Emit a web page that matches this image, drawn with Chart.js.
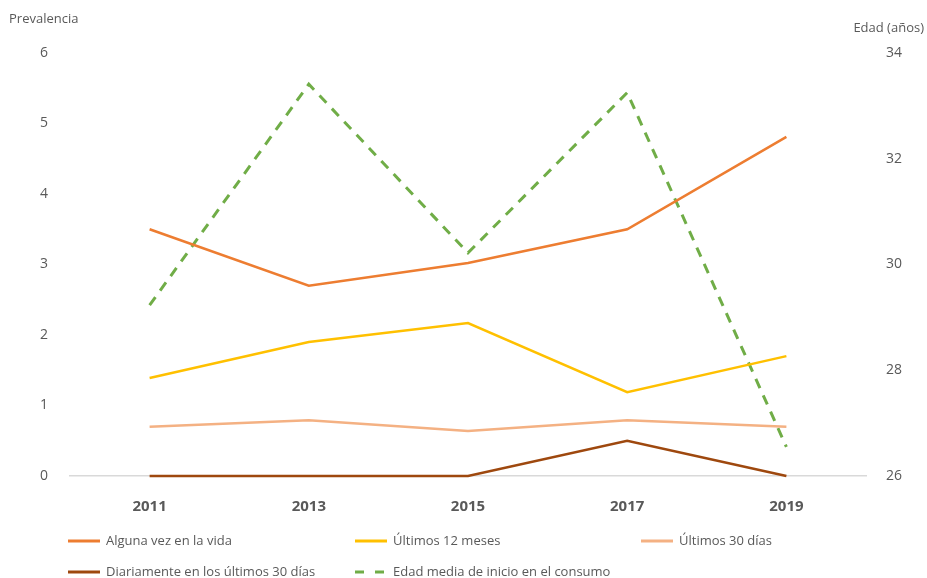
<!DOCTYPE html>
<html>
<head>
<meta charset="utf-8">
<script src="https://cdn.jsdelivr.net/npm/chart.js@4.4.1/dist/chart.umd.min.js"></script>
<style>
  html, body { margin: 0; padding: 0; background: #fff; }
  #wrap { width: 927px; height: 578px; position: relative; }
</style>
</head>
<body>
<div id="wrap"><canvas id="grafico" width="927" height="578"></canvas></div>
<script>
const years = ["2011", "2013", "2015", "2017", "2019"];
const algunaVez = [3.5, 2.7, 3.02, 3.5, 4.81];
const ultimos12 = [1.39, 1.9, 2.17, 1.19, 1.7];
const ultimos30 = [0.7, 0.79, 0.64, 0.79, 0.7];
const diariamente = [0, 0, 0, 0.5, 0];
const edadMedia = [29.23, 33.41, 30.22, 33.25, 26.55];

const gris = "#595959";
const fuente = "'Open Sans', 'Noto Sans', sans-serif";

// leyenda abajo en tres columnas
const legendPlugin = {
  id: "leyendaAbajo",
  afterDraw(chart) {
    const ctx = chart.ctx;
    const cols = [68, 355, 641];
    const rows = [541, 572];
    ctx.save();
    ctx.font = "13px " + fuente;
    ctx.fillStyle = gris;
    ctx.textBaseline = "middle";
    chart.data.datasets.forEach((ds, i) => {
      const x = cols[i % 3];
      const y = rows[Math.floor(i / 3)];
      ctx.beginPath();
      ctx.strokeStyle = ds.borderColor;
      ctx.lineWidth = 3;
      ctx.setLineDash(ds.borderDash ? [9, 11] : []);
      ctx.moveTo(x, y);
      ctx.lineTo(x + 32, y);
      ctx.stroke();
      ctx.setLineDash([]);
      ctx.fillText(ds.label, x + 38, y);
    });
    // titulos de los ejes
    ctx.font = "13px " + fuente;
    ctx.textAlign = "left";
    ctx.fillText("Prevalencia", 9, 19);
    ctx.textAlign = "right";
    ctx.fillText("Edad (años)", 924, 28);
    ctx.restore();
  },
};

const ctx = document.getElementById("grafico");

new Chart(ctx, {
  type: "line",
  data: {
    labels: years,
    datasets: [
      { label: "Alguna vez en la vida", data: algunaVez, borderColor: "#ED7D31", yAxisID: "y" },
      { label: "Últimos 12 meses", data: ultimos12, borderColor: "#FFC000", yAxisID: "y" },
      { label: "Últimos 30 días", data: ultimos30, borderColor: "#F4B183", yAxisID: "y" },
      { label: "Diariamente en los últimos 30 días", data: diariamente, borderColor: "#9E480E", yAxisID: "y" },
      {
        label: "Edad media de inicio en el consumo",
        data: edadMedia,
        borderColor: "#70AD47",
        borderDash: [10, 8],
        borderWidth: 3,
        yAxisID: "y2",
      },
    ],
  },
  options: {
    responsive: false,
    animation: false,
    layout: { padding: { top: 53, bottom: 0, left: 0, right: 0 } },
    datasets: { line: { clip: 6 } },
    elements: {
      point: { radius: 0 },
      line: { borderWidth: 2.5, tension: 0, fill: false },
    },
    scales: {
      x: {
        offset: true,
        grid: { display: false },
        border: { display: true, color: "#d9d9d9", width: 1.5 },
        ticks: {
          color: gris, padding: 14, maxRotation: 0, autoSkip: false,
          font: { family: fuente, size: 15, weight: "bold" },
        },
        afterFit(scale) { scale.height = 102; },
      },
      y: {
        position: "left",
        min: 0,
        max: 6,
        grid: { display: false },
        border: { display: false },
        ticks: { stepSize: 1, color: gris, padding: 14, font: { family: fuente, size: 14 } },
        afterFit(scale) { scale.width = 70; },
      },
      y2: {
        position: "right",
        min: 26,
        max: 34,
        grid: { display: false },
        border: { display: false },
        ticks: { stepSize: 2, color: gris, padding: 12, font: { family: fuente, size: 14 } },
        afterFit(scale) { scale.width = 61; },
      },
    },
    plugins: {
      legend: { display: false },
      tooltip: { enabled: false },
    },
  },
  plugins: [legendPlugin],
});
</script>
</body>
</html>
